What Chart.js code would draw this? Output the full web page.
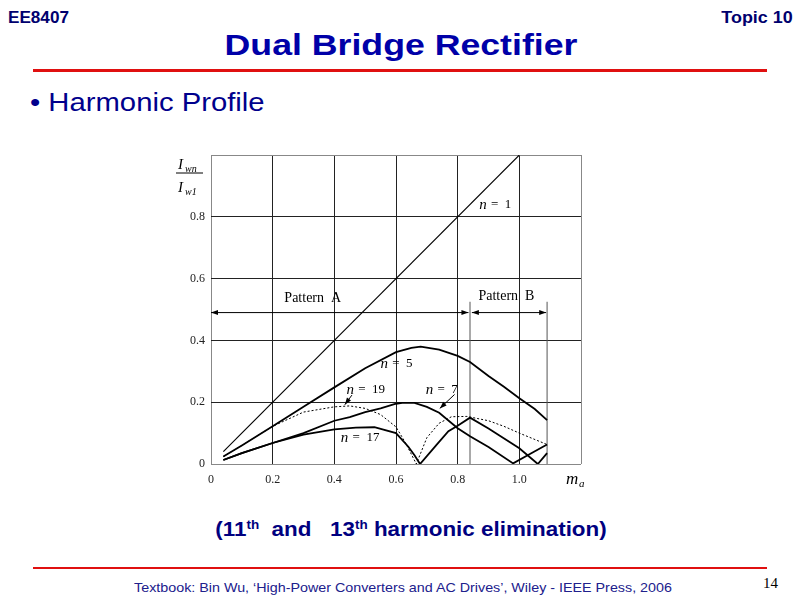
<!DOCTYPE html>
<html>
<head>
<meta charset="utf-8">
<script src="https://cdn.jsdelivr.net/npm/chart.js@4/dist/chart.umd.min.js"></script>
<style>
  body { margin: 0; width: 800px; height: 600px; background: #fff; position: relative; overflow: hidden;
         font-family: 'Liberation Sans', Arial, sans-serif; }
  .t { position: absolute; white-space: nowrap; line-height: 1; }
  .hdr { top: 10px; font-size: 16px; font-weight: bold; color: #00006e; }
  #title { left: 401px; top: 31px; font-size: 29px; font-weight: bold; color: #0000a8;
           transform: translateX(-50%) scaleX(1.23); }
  #sub { left: 30px; top: 90px; font-size: 25px; color: #00008c; transform: scaleX(1.17); transform-origin: left; }
  #caption { left: 411px; top: 519px; font-size: 20px; font-weight: bold; color: #000080;
             transform: translateX(-50%) scaleX(1.12); }
  #caption sup { font-size: 12px; vertical-align: 7px; }
  #foot { left: 403px; top: 581px; font-size: 13px; color: #20208c; transform: translateX(-50%) scaleX(1.1); }
  #page { left: 763px; top: 576px; font-size: 15px; font-family: 'Liberation Serif', serif; color: #000; }
  .rule { position: absolute; left: 33px; width: 734px; background: #e01010; }
  #chartBox { position: absolute; left: 150px; top: 140px; width: 450px; height: 360px; }
</style>
</head>
<body>
<div class="t hdr" style="left:8px;transform:scaleX(1.07);transform-origin:left">EE8407</div>
<div class="t hdr" style="right:7px;transform:scaleX(1.12);transform-origin:right">Topic 10</div>
<div class="t" id="title">Dual Bridge Rectifier</div>
<div class="rule" style="top:69px;height:3px"></div>
<div class="t" id="sub">• Harmonic Profile</div>
<div id="chartBox"><canvas id="harmonicChart" width="450" height="360"></canvas></div>
<div class="t" id="caption">(11<sup>th</sup>&nbsp; and &nbsp; 13<sup>th</sup> harmonic elimination)</div>
<div class="rule" style="top:567px;height:2px"></div>
<div class="t" id="foot">Textbook: Bin Wu, ‘High-Power Converters and AC Drives’, Wiley - IEEE Press, 2006</div>
<div class="t" id="page">14</div>

<script>
// modulation index m_a and normalized harmonic currents I_wn / I_w1
const n1X = [0.04, 1.0];
const n1Y = [0.04, 1.0];

const n5X = [0.04, 0.1, 0.2, 0.3, 0.4, 0.5, 0.6, 0.65, 0.68, 0.74, 0.8, 0.84, 0.9, 0.95, 1.0, 1.05, 1.09];
const n5Y = [0.024, 0.06, 0.122, 0.185, 0.248, 0.31, 0.362, 0.376, 0.38, 0.37, 0.35, 0.33, 0.285, 0.25, 0.213, 0.178, 0.142];

const n7X = [0.04, 0.1, 0.2, 0.3, 0.4, 0.45, 0.5, 0.55, 0.6, 0.62, 0.66, 0.7, 0.74, 0.8, 0.84, 0.9, 0.98, 1.03, 1.09];
const n7Y = [0.013, 0.035, 0.068, 0.1, 0.14, 0.152, 0.168, 0.18, 0.195, 0.198, 0.198, 0.185, 0.166, 0.116, 0.09, 0.055, 0.002, 0.03, 0.063];

const n17X = [0.04, 0.1, 0.2, 0.3, 0.4, 0.47, 0.53, 0.6, 0.64, 0.66, 0.678, 0.73, 0.77, 0.8, 0.84, 0.9, 1.0, 1.06, 1.09];
const n17Y = [0.013, 0.035, 0.068, 0.095, 0.112, 0.118, 0.119, 0.1, 0.056, 0.028, 0.0, 0.06, 0.106, 0.124, 0.15, 0.115, 0.051, 0.0, 0.035];

const n19X = [0.04, 0.1, 0.2, 0.3, 0.4, 0.45, 0.5, 0.55, 0.6, 0.63, 0.666, 0.7, 0.74, 0.78, 0.83, 0.9, 0.95, 1.0, 1.09];
const n19Y = [0.024, 0.06, 0.122, 0.168, 0.185, 0.188, 0.18, 0.16, 0.12, 0.07, 0.0, 0.085, 0.132, 0.153, 0.154, 0.14, 0.122, 0.1, 0.063];

// pattern regions
const boundaryX = [0.84, 1.09];
const boundaryTop = 0.525;
const arrowY = 0.49;
const patternA = [0, 0.835];
const patternB = [0.846, 1.087];

// axis ticks
const xTicks = [0, 0.2, 0.4, 0.6, 0.8, 1.0];
const yTicks = [0, 0.2, 0.4, 0.6, 0.8];

// text annotations [text, x, y]
const curveLabels = [
  ['1', 0.92, 0.838],
  ['5', 0.6, 0.325],
  ['19', 0.5, 0.24],
  ['7', 0.747, 0.24],
  ['17', 0.482, 0.084]
];
const patternLabels = [['Pattern  A', 0.33, 0.537], ['Pattern  B', 0.958, 0.544]];
// pointer arrows [fromX, fromY, toX, toY]
const pointers = [[0.457, 0.223, 0.434, 0.192], [0.79, 0.225, 0.742, 0.18]];

const pts = (xs, ys) => xs.map((x, i) => ({ x, y: ys[i] }));
const line = (data, width, dash) => ({
  data, showLine: true, pointRadius: 0, borderColor: '#000', borderWidth: width,
  borderDash: dash || [], tension: 0, fill: false
});

const datasets = [
  line(pts(n1X, n1Y), 1.1),
  line(pts(n5X, n5Y), 1.8),
  line(pts(n7X, n7Y), 1.8),
  line(pts(n17X, n17Y), 1.8),
  line(pts(n19X, n19Y), 1, [2, 2]),
  ...boundaryX.map(x => ({ ...line([{ x, y: 0 }, { x, y: boundaryTop }], 1), borderColor: '#555' })),
  line([{ x: patternA[0], y: arrowY }, { x: patternA[1], y: arrowY }], 1),
  line([{ x: patternB[0], y: arrowY }, { x: patternB[1], y: arrowY }], 1)
];

function arrowHead(ctx, x, y, dx, dy) {
  const len = Math.hypot(dx, dy), ux = dx / len, uy = dy / len;
  ctx.beginPath();
  ctx.moveTo(x, y);
  ctx.lineTo(x - ux * 7 - uy * 2.5, y - uy * 7 + ux * 2.5);
  ctx.lineTo(x - ux * 7 + uy * 2.5, y - uy * 7 - ux * 2.5);
  ctx.closePath();
  ctx.fill();
}

const annotate = {
  id: 'annotate',
  afterDatasetsDraw(chart) {
    const { ctx, scales: { x, y }, chartArea } = chart;
    ctx.save();
    ctx.fillStyle = '#000';
    ctx.strokeStyle = '#000';
    ctx.lineWidth = 1;

    // double arrows for patterns
    const ay = y.getPixelForValue(arrowY);
    [patternA, patternB].forEach(([a, b]) => {
      arrowHead(ctx, x.getPixelForValue(a), ay, -1, 0);
      arrowHead(ctx, x.getPixelForValue(b), ay, 1, 0);
    });

    // pointer arrows
    pointers.forEach(([x0, y0, x1, y1]) => {
      const px0 = x.getPixelForValue(x0), py0 = y.getPixelForValue(y0);
      const px1 = x.getPixelForValue(x1), py1 = y.getPixelForValue(y1);
      ctx.beginPath();
      ctx.moveTo(px0, py0);
      ctx.lineTo(px1, py1);
      ctx.stroke();
      arrowHead(ctx, px1, py1, px1 - px0, py1 - py0);
    });

    // pattern labels
    ctx.font = '14px "Liberation Serif", serif';
    ctx.textAlign = 'center';
    ctx.textBaseline = 'middle';
    patternLabels.forEach(([t, vx, vy]) => ctx.fillText(t, x.getPixelForValue(vx), y.getPixelForValue(vy)));

    // n = k labels
    curveLabels.forEach(([k, vx, vy]) => {
      const rest = ' =  ' + k;
      ctx.font = 'italic 15px "Liberation Serif", serif';
      const wn = ctx.measureText('n').width;
      ctx.font = '13px "Liberation Serif", serif';
      const wr = ctx.measureText(rest).width;
      let px = x.getPixelForValue(vx) - (wn + wr) / 2;
      const py = y.getPixelForValue(vy);
      ctx.textAlign = 'left';
      ctx.font = 'italic 15px "Liberation Serif", serif';
      ctx.fillText('n', px, py);
      ctx.font = '13px "Liberation Serif", serif';
      ctx.fillText(rest, px + wn + 1, py);
    });

    // y axis title: I_wn / I_w1
    const fx = chartArea.left - 35, fy = chartArea.top + 18;
    ctx.textAlign = 'left';
    ctx.textBaseline = 'alphabetic';
    ctx.font = 'italic 15px "Liberation Serif", serif';
    ctx.fillText('I', fx + 2, fy - 4);
    ctx.fillText('I', fx + 2, fy + 19);
    ctx.font = 'italic 10px "Liberation Serif", serif';
    ctx.fillText('wn', fx + 9, fy - 1);
    ctx.fillText('w1', fx + 9, fy + 22);
    ctx.beginPath();
    ctx.moveTo(fx, fy);
    ctx.lineTo(fx + 27, fy);
    ctx.stroke();

    // x axis title: m_a
    const mx = chartArea.right - 15, my = chartArea.bottom + 20;
    ctx.font = 'italic 17px "Liberation Serif", serif';
    ctx.fillText('m', mx, my);
    ctx.font = 'italic 11px "Liberation Serif", serif';
    ctx.fillText('a', mx + 13, my + 3);
    ctx.restore();
  }
};

const edgeColor = (c, n) => (c.index === 0 || c.index === n - 1) ? '#888' : '#222';

new Chart(document.getElementById('harmonicChart'), {
  type: 'scatter',
  data: { datasets },
  options: {
    responsive: false,
    animation: false,
    layout: { padding: { top: 15, right: 19, left: 0, bottom: 0 } },
    plugins: { legend: { display: false }, tooltip: { enabled: false } },
    scales: {
      x: {
        type: 'linear', min: 0, max: 1.2,
        afterBuildTicks: s => { s.ticks = [...xTicks, 1.2].map(v => ({ value: v })); },
        afterFit: s => { s.height = 36; },
        grid: { color: c => edgeColor(c, xTicks.length + 1), lineWidth: 1, drawTicks: false },
        border: { display: false },
        ticks: {
          padding: 9, color: '#222', font: { family: '"Liberation Serif", serif', size: 12 },
          callback: v => (xTicks.includes(v) ? (v === 0 ? '0' : v.toFixed(1)) : '')
        }
      },
      y: {
        type: 'linear', min: 0, max: 1.0,
        afterBuildTicks: s => { s.ticks = [...yTicks, 1.0].map(v => ({ value: v })); },
        afterFit: s => { s.width = 61; },
        grid: { color: c => edgeColor(c, yTicks.length + 1), lineWidth: 1, drawTicks: false },
        border: { display: false },
        ticks: {
          padding: 6, color: '#222', font: { family: '"Liberation Serif", serif', size: 12 },
          callback: v => (yTicks.includes(v) ? (v === 0 ? '0' : v.toFixed(1)) : '')
        }
      }
    }
  },
  plugins: [annotate]
});
</script>
</body>
</html>
